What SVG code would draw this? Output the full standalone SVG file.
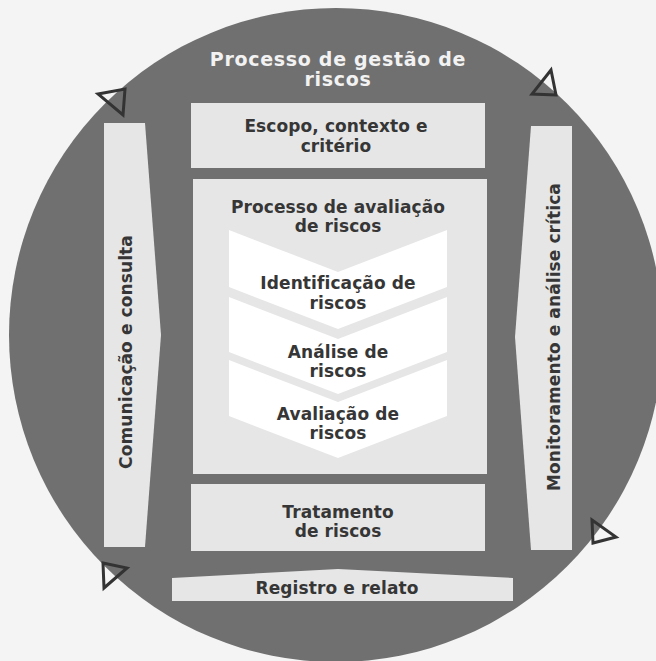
<svg xmlns="http://www.w3.org/2000/svg" width="656" height="661" viewBox="0 0 656 661">
<style>
.bg{fill:#f4f4f4}
.circle{fill:#707070}
.box{fill:#e6e6e6}
.chev{fill:#ffffff}
.lbl{font-family:"DejaVu Sans","Liberation Sans",sans-serif;font-weight:bold;font-size:17px;letter-spacing:0.1px;fill:#363636;text-anchor:middle}
.title{font-family:"DejaVu Sans","Liberation Sans",sans-serif;font-weight:bold;font-size:19px;letter-spacing:0.7px;fill:#f2f2f2;text-anchor:middle}
.tri{fill:none;stroke:#333333;stroke-width:3;stroke-linejoin:miter}
</style>
<rect class="bg" x="0" y="0" width="656" height="661"/>
<circle class="circle" cx="336" cy="335" r="327"/>
<g id="title">
<text class="title" x="338" y="66">Processo de gestão de</text>
<text class="title" x="338" y="86">riscos</text>
</g>
<g id="escopo">
<rect class="box" x="191" y="103" width="294" height="65"/>
<text class="lbl" x="336" y="131.5">Escopo, contexto e</text>
<text class="lbl" x="336" y="152">critério</text>
</g>
<g id="avaliacao-processo">
<rect class="box" x="193" y="179" width="294" height="295"/>
<text class="lbl" x="338" y="213">Processo de avaliação</text>
<text class="lbl" x="338" y="232">de riscos</text>
</g>
<g id="identificacao">
<polygon class="chev" points="229,230 338,272 447,230 447,287 338,329 229,287"/>
<text class="lbl" x="338" y="289">Identificação de</text>
<text class="lbl" x="338" y="309">riscos</text>
</g>
<g id="analise">
<polygon class="chev" points="229,297 338,339 447,297 447,352 338,394 229,352"/>
<text class="lbl" x="338" y="358">Análise de</text>
<text class="lbl" x="338" y="377">riscos</text>
</g>
<g id="avaliacao">
<polygon class="chev" points="229,360 338,402 447,360 447,416 338,458 229,416"/>
<text class="lbl" x="338" y="420">Avaliação de</text>
<text class="lbl" x="338" y="439">riscos</text>
</g>
<g id="tratamento">
<rect class="box" x="191" y="484" width="294" height="67"/>
<text class="lbl" x="338" y="518">Tratamento</text>
<text class="lbl" x="338" y="537">de riscos</text>
</g>
<g id="registro">
<polygon class="box" points="172,578 338,569 513,578 513,601 172,601"/>
<text class="lbl" x="337" y="594">Registro e relato</text>
</g>
<g id="comunicacao">
<polygon class="box" points="104,123 145,123 161,335 145,547 104,547"/>
<text class="lbl" transform="translate(132,352) rotate(-90)" x="0" y="0">Comunicação e consulta</text>
</g>
<g id="monitoramento">
<polygon class="box" points="531,126 572,126 572,550 531,550 515,337"/>
<text class="lbl" transform="translate(560,337) rotate(-90)" x="0" y="0">Monitoramento e análise crítica</text>
</g>
<g id="connectors">
<polygon class="tri" points="98,94 125,89 123,115"/>
<polygon class="tri" points="551,70 532,94 556,95"/>
<polygon class="tri" points="103,563 127,568 104,588"/>
<polygon class="tri" points="592,520 616,537 593,543"/>
</g>
</svg>
